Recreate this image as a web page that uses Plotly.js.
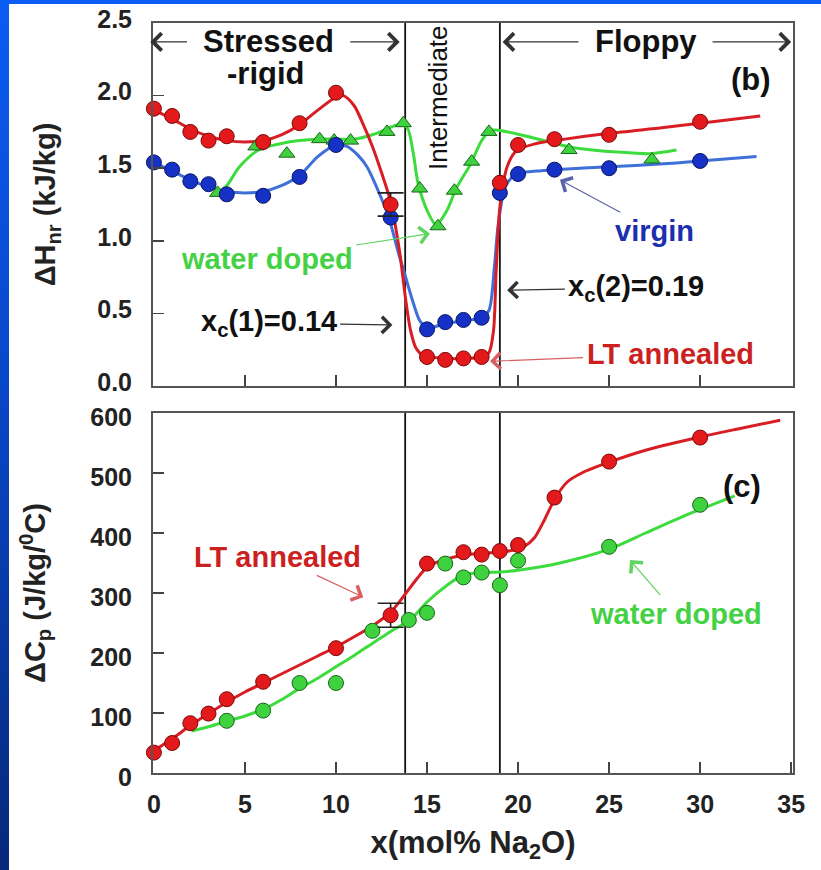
<!DOCTYPE html>
<html>
<head>
<meta charset="utf-8">
<script src="https://cdn.plot.ly/plotly-3.0.1.min.js"></script>
<style>
  html, body { margin: 0; padding: 0; background: #ffffff; }
  #frame { position: relative; width: 821px; height: 870px; overflow: hidden; background: #ffffff; }
  #leftbar { position: absolute; left: 0; top: 0; width: 9px; height: 870px;
             background: linear-gradient(to bottom, #0a5cf4 0%, #0847c8 45%, #06287a 100%); }
  #topbar { position: absolute; left: 0; top: 0; width: 821px; height: 4px; background: #0a5cf4; }
  #chart { position: absolute; left: 0; top: 0; width: 821px; height: 870px; }
</style>
</head>
<body>
<div id="frame">
  <div id="leftbar"></div>
  <div id="topbar"></div>
  <div id="chart"></div>
</div>
<script>
// ---- ΔH_nr (kJ/kg), panel (b) ----
// LT annealed (red circles)
const hnrAnnX = [0, 1, 2, 3, 4, 6, 8, 10, 13, 15, 16, 17, 18, 19, 20, 22, 25, 30];
const hnrAnnY = [1.91, 1.86, 1.75, 1.69, 1.72, 1.68, 1.81, 2.02, 1.25, 0.20, 0.18, 0.19, 0.20, 1.40, 1.66, 1.70, 1.73, 1.82];
const hnrAnnErr = [null, null, null, null, null, null, null, null, 0.08, null, null, null, null, null, null, null, null, null];
// virgin (blue circles)
const hnrVirX = [0, 1, 2, 3, 4, 6, 8, 10, 13, 15, 16, 17, 18, 19, 20, 22, 25, 30];
const hnrVirY = [1.54, 1.49, 1.41, 1.39, 1.32, 1.31, 1.44, 1.66, 1.16, 0.39, 0.44, 0.455, 0.47, 1.33, 1.46, 1.49, 1.50, 1.55];
// water doped (green triangles)
const hnrWetX = [3.5, 5.6, 7.3, 9.1, 9.9, 10.8, 12.8, 13.7, 14.6, 15.6, 16.5, 17.45, 18.4, 22.8, 27.35];
const hnrWetY = [1.33, 1.65, 1.60, 1.70, 1.69, 1.69, 1.75, 1.81, 1.36, 1.10, 1.345, 1.545, 1.75, 1.625, 1.56];

// guide curves through the ΔH_nr data
const hnrAnnFitX = [0, 1, 2, 3, 4, 5, 6, 7, 8, 9, 10, 10.4, 11, 11.5, 12, 12.5, 13, 13.5, 13.8, 14.1, 14.4, 14.8, 16, 17, 18, 18.4, 18.65, 18.8, 19.0, 19.4, 19.9, 21, 22, 25, 28, 30, 33.3];
const hnrAnnFitY = [1.90, 1.84, 1.77, 1.72, 1.69, 1.68, 1.69, 1.73, 1.80, 1.90, 1.99, 2.00, 1.93, 1.80, 1.65, 1.47, 1.27, 0.92, 0.62, 0.38, 0.26, 0.21, 0.19, 0.19, 0.20, 0.23, 0.38, 0.80, 1.23, 1.51, 1.62, 1.67, 1.69, 1.74, 1.78, 1.81, 1.86];
const hnrVirFitX = [0, 1, 2, 3, 4, 5, 6, 7, 8, 9, 10, 10.6, 11.2, 11.7, 12.3, 12.9, 13.4, 13.8, 14.25, 14.6, 15, 16, 17, 18, 18.4, 18.7, 18.9, 19.3, 19.9, 21, 22, 25, 28, 30, 33.1];
const hnrVirFitY = [1.54, 1.48, 1.42, 1.37, 1.34, 1.33, 1.34, 1.38, 1.45, 1.58, 1.66, 1.65, 1.59, 1.51, 1.35, 1.16, 0.93, 0.76, 0.57, 0.45, 0.40, 0.43, 0.45, 0.47, 0.52, 0.82, 1.10, 1.37, 1.46, 1.48, 1.49, 1.51, 1.53, 1.55, 1.58];
const hnrWetFitX = [3.5, 4, 4.7, 5.8, 7, 8, 9, 10, 11, 12, 12.8, 13.4, 13.9, 14.25, 14.5, 15, 15.5, 16.1, 16.6, 17.4, 18, 18.5, 19, 20.8, 22.7, 24.5, 26.3, 27.3, 28.7];
const hnrWetFitY = [1.33, 1.38, 1.51, 1.63, 1.67, 1.69, 1.70, 1.70, 1.70, 1.73, 1.77, 1.80, 1.78, 1.60, 1.40, 1.21, 1.11, 1.21, 1.36, 1.53, 1.69, 1.76, 1.76, 1.71, 1.65, 1.62, 1.605, 1.60, 1.625];

// ---- ΔC_p (J/kg/°C), panel (c) ----
const cpAnnX = [0, 1, 2, 3, 4, 6, 10, 13, 15, 17, 18, 19, 20, 22, 25, 30];
const cpAnnY = [34, 50, 83, 99, 123, 152, 208, 263, 349, 368, 364, 370, 380, 459, 519, 559];
const cpAnnErr = [null, null, null, null, null, null, null, 20, null, null, null, null, null, null, null, null];
const cpWetX = [4, 6, 8, 10, 12, 14, 15, 16, 17, 18, 19, 20, 25, 30];
const cpWetY = [87, 104, 150, 150, 237, 255, 267, 349, 326, 334, 313, 354, 377, 447];

const cpAnnFitX = [0, 1, 2, 3, 4, 5, 6, 7, 8, 9, 10, 11, 12, 13, 13.8, 14.4, 15, 15.7, 16.5, 17.5, 18.5, 19.5, 20.3, 20.9, 21.5, 22, 22.7, 23.5, 25, 27, 30, 32, 34.4];
const cpAnnFitY = [37, 57, 79, 99, 118, 135, 150, 165, 180, 195, 210, 227, 245, 268, 298, 322, 343, 353, 360, 365, 367, 370, 377, 392, 425, 456, 485, 500, 518, 538, 560, 573, 588];
const cpWetFitX = [2.07, 3, 4, 5, 6, 7, 8, 9, 10, 11, 12, 13, 14.1, 15, 16.1, 17, 18, 19, 20, 22.3, 25, 27, 29, 31.9];
const cpWetFitY = [70, 77, 86, 95, 106, 122, 141, 158, 177, 196, 216, 236, 256, 285, 313, 330, 334, 335, 338, 350, 373, 400, 427, 462];

// phase boundaries (mol% Na2O)
const boundaries = [13.8, 19];

const RED = '#d81e24', RED_FILL = '#e3191c', RED_EDGE = '#7a0a0a';
const BLUE = '#3f6fd8', BLUE_FILL = '#1631c6', BLUE_EDGE = '#0a1660';
const GREEN = '#3ddc3d', GREEN_FILL = '#3fd23f', GREEN_EDGE = '#1a641a';
const FONT = 'Liberation Sans, Arial, Helvetica, sans-serif';

const nanify = a => a.map(v => (v === null ? NaN : v));

function curve(x, y, color, xa, ya) {
  return { x, y, type: 'scatter', mode: 'lines', xaxis: xa, yaxis: ya,
    line: { color, width: 3, shape: 'spline', smoothing: 0.8 },
    cliponaxis: false, hoverinfo: 'skip', showlegend: false };
}
function points(x, y, symbol, fill, edge, xa, ya, err) {
  const t = { x, y, type: 'scatter', mode: 'markers', xaxis: xa, yaxis: ya,
    marker: { symbol, size: symbol === 'circle' ? 15 : 14, color: fill, line: { color: edge, width: 1 } },
    cliponaxis: false, showlegend: false };
  if (err) t.error_y = { type: 'data', array: nanify(err), color: '#222222', thickness: 1.6, width: 13 };
  return t;
}

const traces = [
  curve(hnrWetFitX, hnrWetFitY, GREEN, 'x', 'y'),
  curve(hnrVirFitX, hnrVirFitY, BLUE, 'x', 'y'),
  curve(hnrAnnFitX, hnrAnnFitY, RED, 'x', 'y'),
  points(hnrWetX, hnrWetY, 'triangle-up', GREEN_FILL, GREEN_EDGE, 'x', 'y'),
  points(hnrVirX, hnrVirY, 'circle', BLUE_FILL, BLUE_EDGE, 'x', 'y'),
  points(hnrAnnX, hnrAnnY, 'circle', RED_FILL, RED_EDGE, 'x', 'y', hnrAnnErr),
  curve(cpWetFitX, cpWetFitY, GREEN, 'x2', 'y2'),
  curve(cpAnnFitX, cpAnnFitY, RED, 'x2', 'y2'),
  points(cpWetX, cpWetY, 'circle', GREEN_FILL, GREEN_EDGE, 'x2', 'y2'),
  points(cpAnnX, cpAnnY, 'circle', RED_FILL, RED_EDGE, 'x2', 'y2', cpAnnErr)
];

const axisLine = { showline: true, linecolor: '#555555', linewidth: 2, mirror: true,
  ticks: 'inside', ticklen: 11, tickwidth: 1.5, tickcolor: '#444444',
  showgrid: false, zeroline: false, fixedrange: true };
const tickFont = { family: FONT, size: 25, color: '#222222', weight: 'bold' };
const titleFont = { family: FONT, size: 29, color: '#222222', weight: 'bold' };

const shapes = [];
boundaries.forEach(b => {
  ['y', 'y2'].forEach((ya, i) => {
    shapes.push({ type: 'line', xref: i === 0 ? 'x' : 'x2', yref: ya + ' domain',
      x0: b, x1: b, y0: 0, y1: 1, line: { color: '#111111', width: 1.8 }, layer: 'below' });
  });
});

const BIG = { family: FONT, size: 31, color: '#111111', weight: 'bold' };
function label(text, x, y, ref, opts) {
  return Object.assign({ text, x, y, xref: ref[0], yref: ref[1], showarrow: false,
    xanchor: 'center', yanchor: 'middle', font: BIG }, opts || {});
}
function pointer(text, tipX, tipY, textX, textY, ref, color, size) {
  return { text, x: tipX, y: tipY, ax: textX, ay: textY, xref: ref[0], yref: ref[1],
    axref: ref[0], ayref: ref[1], showarrow: true, arrowhead: 4, arrowsize: 2.6,
    arrowwidth: 1.2, arrowcolor: color.arrow, standoff: 0, startstandoff: 2,
    font: { family: FONT, size: size || 29, color: color.text, weight: 'bold' } };
}
function arrowOnly(x0, y0, x1, y1, ref) {
  return { text: '', x: x1, y: y1, ax: x0, ay: y0, xref: ref[0], yref: ref[1],
    axref: ref[0], ayref: ref[1], showarrow: true, arrowhead: 4, arrowsize: 2.8,
    arrowwidth: 1.2, arrowcolor: '#333333' };
}

const TOP = ['x', 'y'], BOT = ['x2', 'y2'];
const annotations = [
  label('Stressed', 6.3, 2.37, TOP),
  label('-rigid', 6.15, 2.15, TOP),
  arrowOnly(1.9, 2.37, -0.2, 2.37, TOP),
  arrowOnly(10.7, 2.37, 13.5, 2.37, TOP),
  label('Floppy', 27.0, 2.37, TOP),
  arrowOnly(23.4, 2.37, 19.15, 2.37, TOP),
  arrowOnly(30.6, 2.37, 35.0, 2.37, TOP),
  label('Intermediate', 15.6, 1.99, TOP, { textangle: -90,
    font: { family: FONT, size: 26, color: '#111111', weight: 'normal' } }),
  label('(b)', 32.8, 2.11, TOP),
  pointer('water doped', 15.16, 1.05, 6.2, 0.875, TOP, { text: '#44d244', arrow: '#5fd45f' }),
  pointer('virgin', 22.3, 1.42, 27.5, 1.07, TOP, { text: '#1c2fb0', arrow: '#5a64a8' }),
  pointer('x<sub>c</sub>(2)=0.19', 19.4, 0.66, 26.5, 0.675, TOP, { text: '#111111', arrow: '#333333' }),
  pointer('x<sub>c</sub>(1)=0.14', 13.1, 0.42, 6.3, 0.434, TOP, { text: '#111111', arrow: '#333333' }),
  pointer('LT annealed', 18.46, 0.17, 28.35, 0.22, TOP, { text: '#cc1f1f', arrow: '#d86060' }),
  pointer('LT annealed', 11.5, 293, 6.8, 360, BOT, { text: '#cc1f1f', arrow: '#d86060' }),
  label('(c)', 32.3, 477, BOT),
  pointer('water doped', 26.15, 355, 28.7, 265, BOT, { text: '#44d244', arrow: '#5fd45f' })
];

const layout = {
  width: 821, height: 870,
  margin: { l: 153, r: 28, t: 23, b: 97 },
  paper_bgcolor: 'rgba(0,0,0,0)', plot_bgcolor: '#ffffff',
  showlegend: false,
  xaxis: Object.assign({}, axisLine, { domain: [0, 1], anchor: 'y', range: [-0.05, 35.1],
    tickvals: [5, 10, 15, 20, 25, 30], showticklabels: false }),
  yaxis: Object.assign({}, axisLine, { domain: [0.516, 1], anchor: 'x', range: [0, 2.5],
    tickvals: [0, 0.5, 1, 1.5, 2, 2.5], tickformat: '.1f', tickfont: tickFont,
    ticklabelstandoff: 14, ticklabelshift: -4,
    title: { text: 'ΔH<sub>nr</sub> (kJ/kg)', standoff: 33, font: titleFont } }),
  xaxis2: Object.assign({}, axisLine, { domain: [0, 1], anchor: 'y2', range: [-0.05, 35.1],
    tickvals: [0, 5, 10, 15, 20, 25, 30, 35], tickfont: tickFont, ticklabelstandoff: 8,
    title: { text: 'x(mol% Na<sub>2</sub>O)', standoff: 14,
      font: { family: FONT, size: 31, color: '#222222', weight: 'bold' } } }),
  yaxis2: Object.assign({}, axisLine, { domain: [0, 0.48], anchor: 'x2', range: [0, 600],
    tickvals: [0, 100, 200, 300, 400, 500, 600], tickfont: tickFont,
    ticklabelstandoff: 14, ticklabelshift: 4,
    title: { text: 'ΔC<sub>p</sub> (J/kg/<sup>0</sup>C)', standoff: 36, font: titleFont } }),
  shapes, annotations
};

Plotly.newPlot('chart', traces, layout, { displayModeBar: false, staticPlot: true });
</script>
</body>
</html>
